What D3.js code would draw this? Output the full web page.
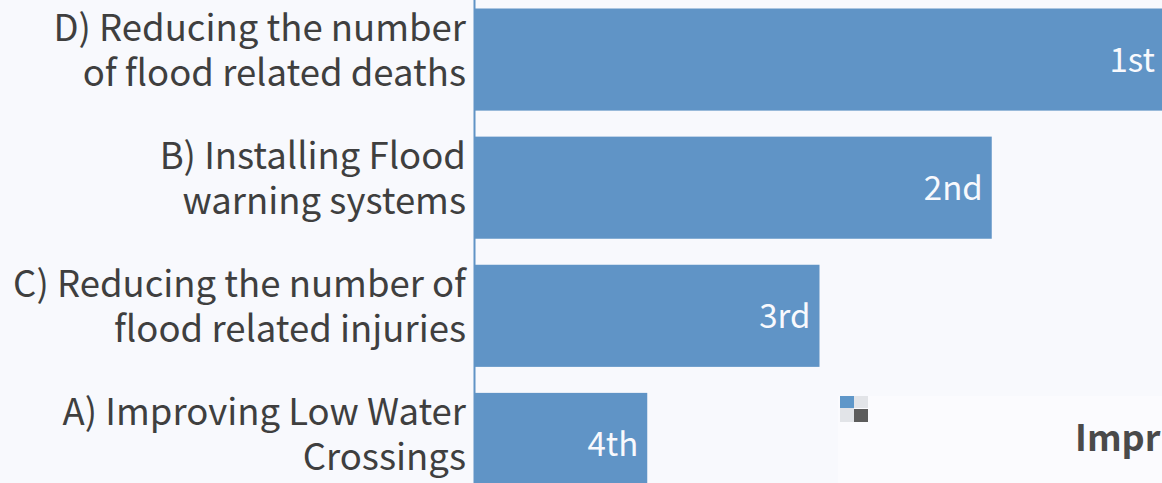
<!DOCTYPE html>
<html>
<head>
<meta charset="utf-8">
<script src="https://d3js.org/d3.v7.min.js"></script>
<style>
    html, body { margin: 0; padding: 0; background: #f8f9fd; overflow: hidden; }
    svg { display: block; }
    text { font-family: "Noto Sans CJK SC", "Noto Sans", sans-serif; }
</style>
</head>
<body>
<svg id="chart" width="1162" height="483"></svg>
<script>
// labels are split in two lines like the original
const labels = [
    ["D) Reducing the number", "of flood related deaths"],
    ["B) Installing Flood", "warning systems"],
    ["C) Reducing the number of", "flood related injuries"],
    ["A) Improving Low Water", "Crossings"]
];
const ranks = ["1st", "2nd", "3rd", "4th"];
const values = [4, 3, 2, 1];

const svg = d3.select('#chart');
const left = 475;

// the reference is cropped, so the scale runs on past the right edge
const x = d3.scaleLinear().domain([0, 4]).range([left, 1164]);

const y = d3.scaleBand()
    .domain(d3.range(labels.length))
    .range([8.5, 495])
    .paddingInner(0.203);

// bars
svg.append("g")
    .selectAll('rect')
    .data(values)
    .join('rect')
    .attr('x', x(0))
    .attr('y', (d, i) => y(i))
    .attr('width', d => x(d) - x(0))
    .attr('height', y.bandwidth())
    .attr('fill', '#6094c6');

// axis line
svg.append("line")
    .attr("x1", left - 0.5).attr("x2", left - 0.5)
    .attr("y1", 0).attr("y2", 483)
    .attr("stroke", "#6094c6")
    .attr("stroke-width", 2);

// rank labels inside of the bars
svg.append("g")
    .selectAll('text')
    .data(values)
    .join('text')
    .attr('x', d => Math.min(x(d), 1166) - 9)
    .attr('y', (d, i) => y(i) + y.bandwidth() / 2 + 12)
    .attr('text-anchor', 'end')
    .attr('fill', '#f8f9fd')
    .attr('font-size', 33)
    .text((d, i) => ranks[i]);

// category labels
const cat = svg.append("g")
    .selectAll('text')
    .data(labels)
    .join('text')
    .attr('text-anchor', 'end')
    .attr('fill', '#3f3f3f')
    .attr('font-size', 36.5);

cat.selectAll('tspan')
    .data((d, i) => d.map((t, j) => ({t: t, i: i, j: j})))
    .join('tspan')
    .attr('x', 466)
    .attr('y', d => y(d.i) + y.bandwidth() / 2 + (d.j === 0 ? -19 : 26))
    .text(d => d.t);

// tooltip fragment at the bottom right
const tip = svg.append("g");
tip.append("rect").attr("x", 838).attr("y", 396).attr("width", 324).attr("height", 87).attr("fill", "#fbfbfe");
tip.append("rect").attr("x", 840).attr("y", 396).attr("width", 14).attr("height", 12).attr("fill", "#5f97c9");
tip.append("rect").attr("x", 854).attr("y", 396).attr("width", 14).attr("height", 12).attr("fill", "#e2e4e8");
tip.append("rect").attr("x", 840).attr("y", 408).attr("width", 14).attr("height", 14).attr("fill", "#e2e4e8");
tip.append("rect").attr("x", 854).attr("y", 409).attr("width", 14).attr("height", 13).attr("fill", "#5c5c5c");
tip.append("text")
    .attr("x", 1075).attr("y", 451)
    .attr("fill", "#4a4a4a")
    .attr("font-size", 36)
    .attr("font-weight", 700)
    .text("Impr");
</script>
</body>
</html>
